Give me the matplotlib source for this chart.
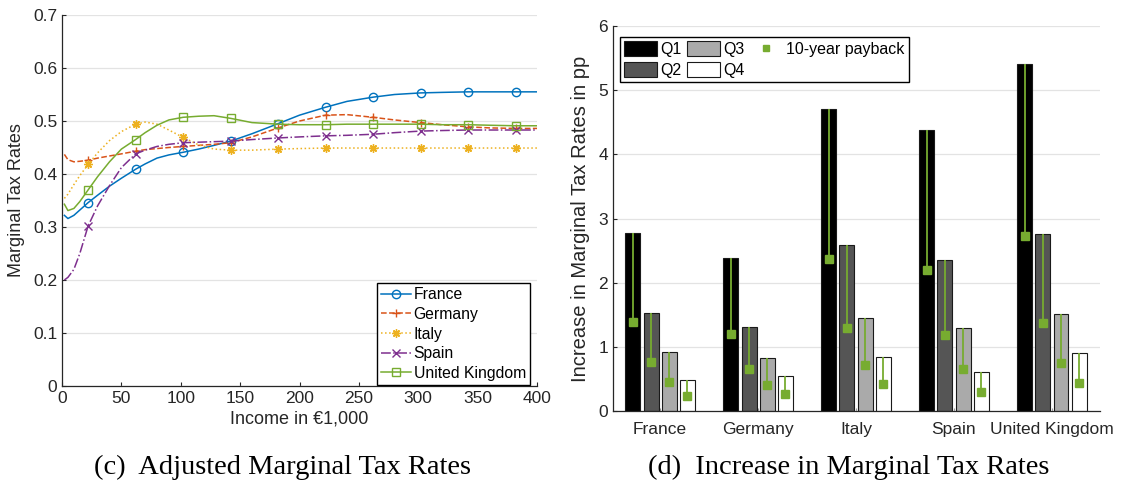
import matplotlib
matplotlib.use("Agg")
import matplotlib.pyplot as plt
import numpy as np
from matplotlib.patches import Patch
from matplotlib.lines import Line2D

plt.rcParams['font.family'] = ['Liberation Sans', 'DejaVu Sans']

# ---- (c) adjusted marginal tax rates ----
income = [2, 5, 10, 15, 22, 30, 40, 50, 62, 70, 80, 90, 102, 115, 128, 142, 160,
          182, 200, 222, 240, 262, 280, 302, 320, 342, 360, 382, 400]
marker_income = [22, 62, 102, 142, 182, 222, 262, 302, 342, 382]

france = [0.322, 0.316, 0.322, 0.332, 0.346, 0.360, 0.377, 0.392, 0.409, 0.419, 0.430,
          0.436, 0.441, 0.447, 0.454, 0.462, 0.476, 0.495, 0.511, 0.526, 0.537, 0.545,
          0.550, 0.553, 0.554, 0.555, 0.555, 0.555, 0.555]
germany = [0.437, 0.427, 0.423, 0.424, 0.426, 0.430, 0.434, 0.438, 0.443, 0.446, 0.448,
           0.450, 0.452, 0.454, 0.456, 0.459, 0.470, 0.487, 0.500, 0.511, 0.512, 0.507,
           0.502, 0.497, 0.493, 0.489, 0.487, 0.486, 0.486]
italy = [0.354, 0.362, 0.380, 0.397, 0.418, 0.440, 0.463, 0.480, 0.494, 0.498, 0.494,
         0.483, 0.469, 0.455, 0.447, 0.445, 0.445, 0.447, 0.448, 0.449, 0.449, 0.449,
         0.449, 0.449, 0.449, 0.449, 0.449, 0.449, 0.449]
spain = [0.200, 0.205, 0.220, 0.250, 0.302, 0.340, 0.378, 0.412, 0.438, 0.445, 0.452,
         0.456, 0.459, 0.460, 0.461, 0.462, 0.465, 0.468, 0.470, 0.472, 0.473, 0.475,
         0.478, 0.481, 0.482, 0.483, 0.483, 0.483, 0.483]
uk = [0.343, 0.331, 0.335, 0.348, 0.370, 0.395, 0.423, 0.447, 0.465, 0.478, 0.492,
      0.502, 0.507, 0.509, 0.510, 0.505, 0.497, 0.494, 0.493, 0.493, 0.494, 0.494,
      0.494, 0.494, 0.493, 0.493, 0.492, 0.491, 0.491]

# ---- (d) increase in marginal tax rates (pp) ----
countries = ["France", "Germany", "Italy", "Spain", "United Kingdom"]
q1 = [2.77, 2.39, 4.71, 4.38, 5.40]
q2 = [1.53, 1.31, 2.58, 2.36, 2.76]
q3 = [0.92, 0.83, 1.45, 1.30, 1.51]
q4 = [0.48, 0.54, 0.84, 0.61, 0.90]
payback_q1 = [1.385, 1.20, 2.365, 2.20, 2.72]
payback_q2 = [0.77, 0.65, 1.29, 1.18, 1.375]
payback_q3 = [0.45, 0.41, 0.72, 0.65, 0.75]
payback_q4 = [0.24, 0.26, 0.42, 0.30, 0.44]

txt = '#262626'
green = '#77AC30'

fig = plt.figure(figsize=(11.22, 4.86), dpi=100)
ax1 = fig.add_axes([62/1122, 100/486, 475/1122, 371/486])
ax2 = fig.add_axes([613/1122, 75/486, 487/1122, 385/486])

# left panel
mark_idx = [income.index(v) for v in marker_income]
series = [
    (france, "France", '#0072BD', '-', 'o'),
    (germany, "Germany", '#D95319', '--', '+'),
    (italy, "Italy", '#EDB120', ':', (8, 2, 0)),
    (spain, "Spain", '#7E2F8E', '-.', 'x'),
    (uk, "United Kingdom", '#77AC30', '-', 's'),
]
for y, name, col, ls, mk in series:
    ax1.plot(income, y, color=col, ls=ls, lw=1.1, marker=mk, markevery=mark_idx,
             mfc='none', ms=6, mew=1.0, label=name)

ax1.set_xlim(0, 400)
ax1.set_ylim(0, 0.7)
yt = np.round(np.arange(0, 0.71, 0.1), 1)
ax1.set_yticks(yt)
ax1.set_yticklabels([f"{v:g}" for v in yt])
ax1.set_xticks(range(0, 401, 50))
ax1.set_xlabel("Income in €1,000", fontsize=13, color=txt, labelpad=3)
ax1.set_ylabel("Marginal Tax Rates", fontsize=13, color=txt, labelpad=6)
ax1.legend(loc='lower right', bbox_to_anchor=(0.985, 0.003), fontsize=11.3,
           frameon=True, fancybox=False, edgecolor='black', framealpha=1,
           handlelength=1.9, handletextpad=0.2, labelspacing=0.3, borderpad=0.25,
           borderaxespad=0)

# right panel
x = np.arange(1, 6)
offsets = [-0.276, -0.092, 0.092, 0.276]
width = 0.153
fills = ['black', '#555555', '#aaaaaa', 'white']
heights = [q1, q2, q3, q4]
paybacks = [payback_q1, payback_q2, payback_q3, payback_q4]
for off, h, p, fc in zip(offsets, heights, paybacks, fills):
    ax2.bar(x + off, h, width, color=fc, edgecolor='#1a1a1a', lw=0.8, zorder=2)
    ax2.vlines(x + off, p, h, color=green, lw=1.3, zorder=3)
    ax2.plot(x + off, p, 's', color=green, ms=5.5, zorder=4)

ax2.set_xlim(0.52, 5.49)
ax2.set_ylim(0, 6)
ax2.set_yticks(range(0, 7))
ax2.set_xticks(x)
ax2.set_xticklabels(countries)
ax2.set_ylabel("Increase in Marginal Tax Rates in pp", fontsize=14.5, color=txt,
               labelpad=6)
handles = [Patch(facecolor=c, edgecolor='#1a1a1a', lw=0.8) for c in fills]
handles.append(Line2D([], [], ls='none', marker='s', color=green, ms=4))
ax2.legend(handles, ["Q1", "Q2", "Q3", "Q4", "10-year payback"], ncol=3,
           loc='upper left', bbox_to_anchor=(0.014, 0.971), fontsize=11.5,
           frameon=True, fancybox=False, edgecolor='black', framealpha=1,
           handlelength=2.1, handleheight=1.1, handletextpad=0.2,
           columnspacing=0.3, labelspacing=0.3, borderpad=0.25, borderaxespad=0)

for ax in (ax1, ax2):
    ax.yaxis.grid(True, color='#e3e3e3', lw=0.9)
    ax.set_axisbelow(True)
    for s in ('top', 'right'):
        ax.spines[s].set_visible(False)
    for s in ('left', 'bottom'):
        ax.spines[s].set_color(txt)
        ax.spines[s].set_linewidth(0.9)
    ax.tick_params(direction='in', length=3, colors=txt, labelsize=12.5, width=0.8)
ax2.tick_params(axis='x', length=2, colors='#999999', labelcolor=txt, pad=8)

fig.text(282/1122, 1 - 467/486, "(c)  Adjusted Marginal Tax Rates", ha='center',
         va='center', family='Liberation Serif', fontsize=20.5)
fig.text(849/1122, 1 - 467/486, "(d)  Increase in Marginal Tax Rates", ha='center',
         va='center', family='Liberation Serif', fontsize=20.5)

fig.savefig("out.png", dpi=100)
